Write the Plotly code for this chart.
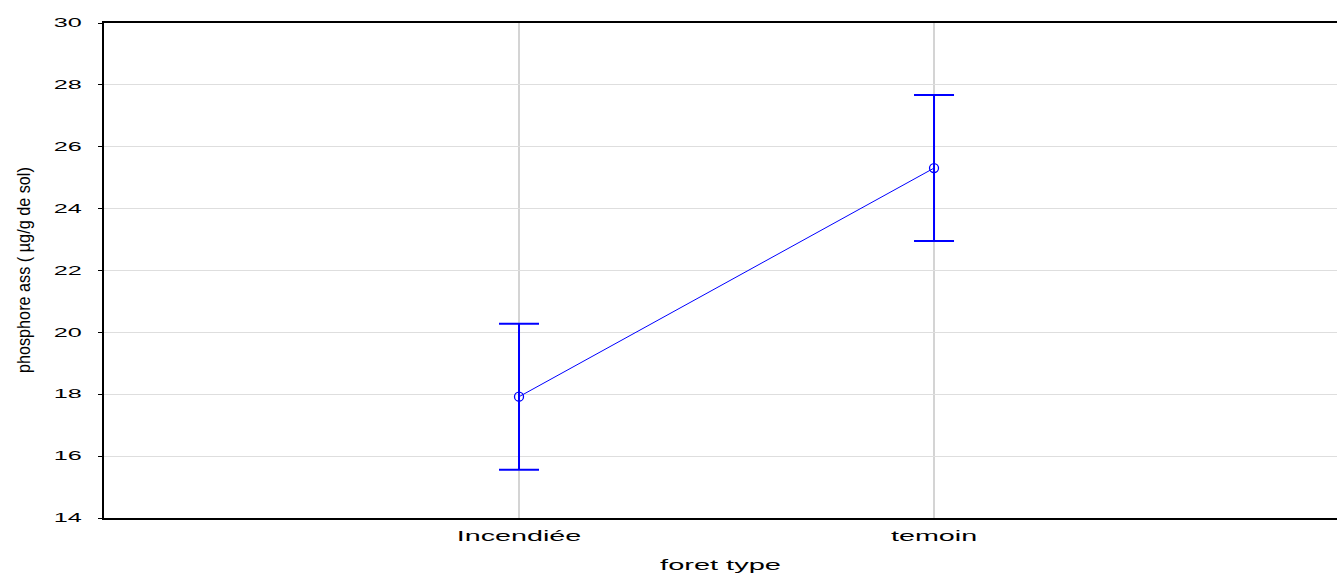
import plotly.graph_objects as go

categories = ["Incendiée", "temoin"]
means = [17.92, 25.31]
errors = [2.36, 2.36]
y_ticks = [14, 16, 18, 20, 22, 24, 26, 28, 30]
x_title = "foret type"
y_title = "phosphore ass ( µg/g de sol)"

xpos = list(range(len(categories)))

fig = go.Figure()
fig.add_trace(go.Scatter(
    x=xpos, y=means, mode="lines+markers",
    line=dict(color="#0000ff", width=1),
    marker=dict(symbol="circle-open", size=9, color="#0000ff", line=dict(width=1.3)),
    error_y=dict(type="data", array=errors, visible=True, color="#0000ff", thickness=2, width=20),
    showlegend=False,
))

fig.add_annotation(
    text=y_title, textangle=-90, xref="paper", yref="paper",
    x=-0.065, y=0.502, xanchor="center", yanchor="middle", showarrow=False,
    font=dict(family="Liberation Sans, Arial", size=18, color="black"),
)

fig.update_layout(
    width=1337, height=575,
    margin=dict(l=104, r=0, t=23, b=57, autoexpand=False),
    plot_bgcolor="white", paper_bgcolor="white",
    font=dict(family="Liberation Sans, Arial", size=14, color="black"),
    xaxis=dict(
        range=[-1, 1.971], tickmode="array", tickvals=xpos, ticktext=categories,
        showgrid=True, gridcolor="#d4d4d4", gridwidth=2,
        showline=True, linecolor="black", linewidth=1.5, mirror=True,
        ticks="", zeroline=False, automargin=False,
        tickfont=dict(size=14), ticklabelstandoff=4,
        title=dict(text=x_title, font=dict(size=14), standoff=18),
    ),
    yaxis=dict(
        range=[14, 30], tickmode="array", tickvals=y_ticks,
        showgrid=True, gridcolor="#dedede", gridwidth=1,
        showline=True, linecolor="black", linewidth=1.5,
        ticks="outside", ticklen=4, tickcolor="black",
        tickfont=dict(size=12), ticklabelstandoff=14,
        zeroline=False, automargin=False,
    ),
)

post = """
document.body.style.margin = '0';
document.body.style.padding = '0';
var gd = document.getElementById('{plot_id}');
function stretchText(el, factor, fixedLen) {
  el.removeAttribute('textLength');
  el.removeAttribute('lengthAdjust');
  var w = el.getComputedTextLength();
  var target = fixedLen ? fixedLen : w * factor;
  el.setAttribute('textLength', target);
  el.setAttribute('lengthAdjust', 'spacingAndGlyphs');
}
function stretchAll() {
  gd.querySelectorAll('g.xtick > text').forEach(function(t){ stretchText(t, 2.05); });
  gd.querySelectorAll('g.ytick > text').forEach(function(t){ stretchText(t, 2.1); });
  gd.querySelectorAll('text.xtitle').forEach(function(t){ stretchText(t, 2.07); });
  gd.querySelectorAll('g.annotation text').forEach(function(t){ stretchText(t, 1, 206); });
}
stretchAll();
gd.on('plotly_afterplot', stretchAll);
"""

fig.write_html("out.html", post_script=post, config={"displayModeBar": False})
